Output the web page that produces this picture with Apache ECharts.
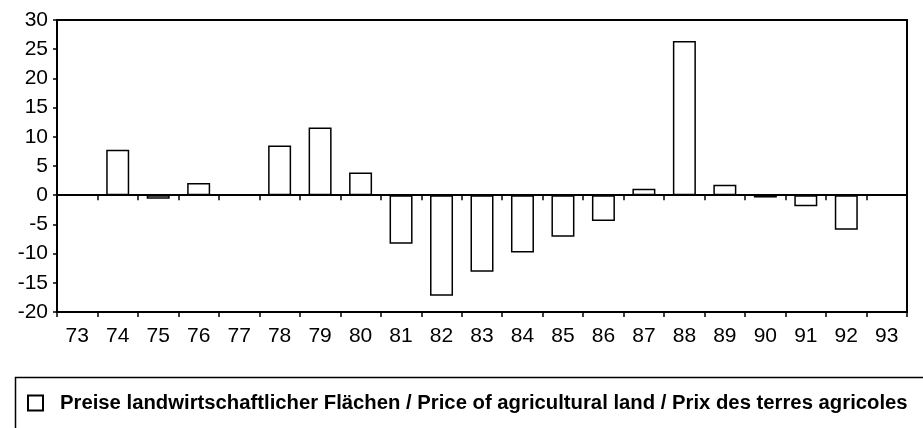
<!DOCTYPE html>
<html>
<head>
<meta charset="utf-8">
<script src="https://cdn.jsdelivr.net/npm/echarts@6/dist/echarts.min.js"></script>
<style>
    html, body { margin: 0; padding: 0; background: #fff; }
    #chart { width: 923px; height: 428px; }
</style>
</head>
<body>
<div id="chart"></div>
<script>
// Data
const years = ['73', '74', '75', '76', '77', '78', '79', '80', '81', '82', '83',
    '84', '85', '86', '87', '88', '89', '90', '91', '92', '93'];
const landPrice = [null, 7.8, -0.6, 2.1, null, 8.5, 11.6, 3.9, -8.3, -17.2, -13.1,
    -9.8, -7.1, -4.4, 1.1, 26.4, 1.8, -0.4, -1.9, -5.9, null];
const seriesName = 'Preise landwirtschaftlicher Flächen / Price of agricultural land / Prix des terres agricoles';

const chart = echarts.init(document.getElementById('chart'));

const axisFont = {
    fontFamily: 'Liberation Sans',
    fontSize: 21,
    color: '#000'
};

const option = {
    animation: false,
    grid: {
        left: 57,
        right: 16,
        top: 20,
        bottom: 116,
        show: true,
        borderColor: '#000',
        borderWidth: 2,
        backgroundColor: 'transparent'
    },
    legend: {
        left: 27,
        top: 393,
        padding: 0,
        icon: 'rect',
        itemWidth: 15,
        itemHeight: 15,
        textStyle: {
            fontFamily: 'Liberation Sans',
            fontWeight: 'bold',
            fontSize: 20.3,
            color: '#000',
            padding: [0, 0, 0, 12]
        },
        data: [seriesName]
    },
    xAxis: [
        {
            type: 'category',
            data: years,
            position: 'bottom',
            axisLine: { onZero: false, lineStyle: { color: '#000', width: 2 } },
            axisTick: { show: true, length: 5, lineStyle: { color: '#000', width: 1.5 } },
            axisLabel: Object.assign({ margin: 14, interval: 0 }, axisFont),
            splitLine: { show: false }
        },
        {
            type: 'category',
            data: years,
            position: 'bottom',
            axisLine: { onZero: true, lineStyle: { color: '#000', width: 2 } },
            axisTick: { show: true, length: 5, lineStyle: { color: '#000', width: 1.5 } },
            axisLabel: { show: false },
            splitLine: { show: false }
        }
    ],
    yAxis: {
        type: 'value',
        min: -20,
        max: 30,
        interval: 5,
        axisLine: { show: true, lineStyle: { color: '#000', width: 2 } },
        axisTick: { show: true, length: 4, lineStyle: { color: '#000', width: 1.5 } },
        axisLabel: Object.assign({ margin: 9 }, axisFont),
        splitLine: { show: false }
    },
    series: [
        {
            name: seriesName,
            type: 'bar',
            xAxisIndex: 0,
            barWidth: 23,
            data: landPrice,
            itemStyle: {
                color: '#fff',
                borderColor: '#000',
                borderWidth: 1.5
            }
        }
    ],
    graphic: [
        {
            type: 'rect',
            left: 13,
            top: 375,
            shape: { width: 909, height: 80 },
            style: { fill: 'none', stroke: '#000', lineWidth: 1.5 },
            silent: true
        }
    ]
};

chart.setOption(option);
</script>
</body>
</html>
